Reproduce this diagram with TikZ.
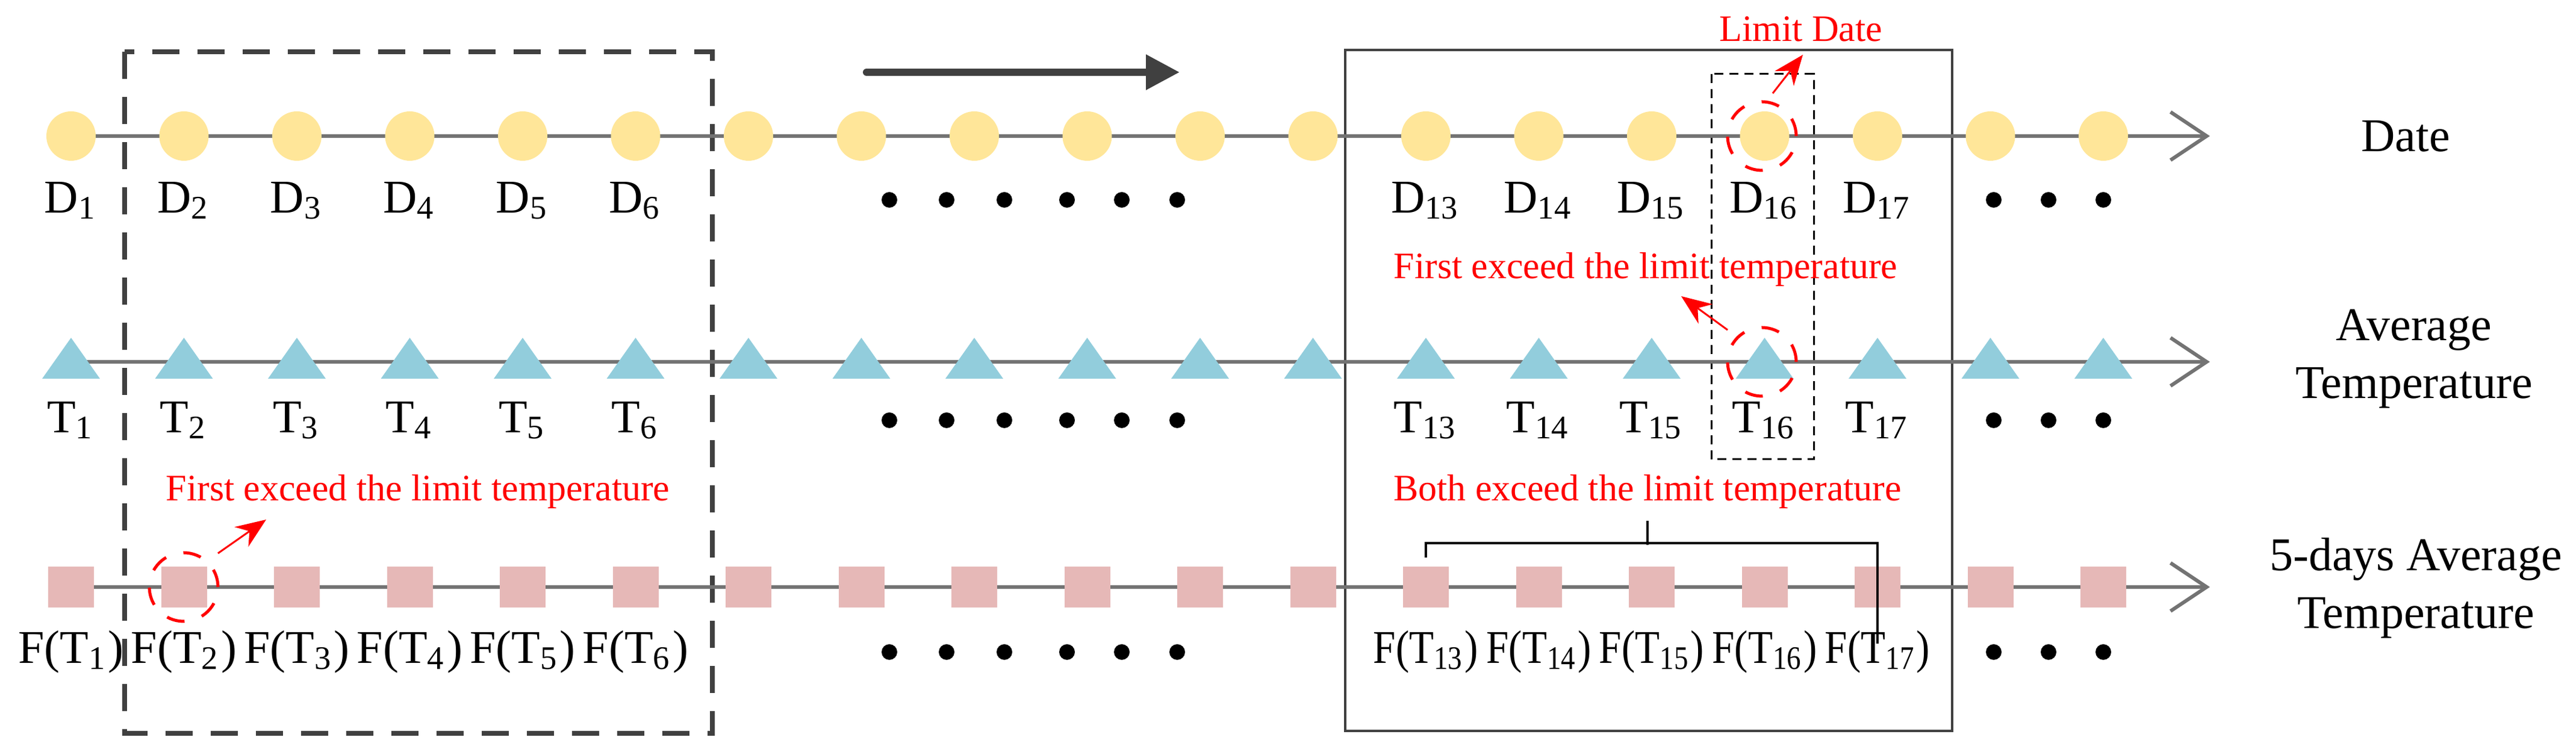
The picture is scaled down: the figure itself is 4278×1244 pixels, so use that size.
\documentclass[tikz,border=0pt]{standalone}
\usepackage{fontspec}
\setmainfont{Liberation Serif}
\usetikzlibrary{arrows.meta}
\begin{document}
\begin{tikzpicture}[x=0.1pt,y=-0.1pt,
  axis/.style={draw=gray!90!black,line width=0.6pt,-{Straight Barb[length=6pt,width=8pt,line width=0.6pt]}},
  dot/.style={circle,fill=yellow!40!orange!40,fill={rgb,255:red,255;green,230;blue,153},inner sep=0,minimum width=8pt,minimum height=8.2pt},
  tri/.style={regular polygon,regular polygon sides=3},
  sq/.style={rectangle,fill={rgb,255:red,230;green,184;blue,183},inner sep=0,minimum width=7.6pt,minimum height=6.8pt},
  lab/.style={font=\fontsize{7.8}{9}\selectfont,inner sep=0},
  red/.style={font=\fontsize{6.2}{7}\selectfont,text=red,inner sep=0},
  bd/.style={circle,fill=black,inner sep=0,minimum size=2.6pt},
  rc/.style={draw=red,dashed,line width=0.5pt,circle,minimum size=11.4pt,inner sep=0},
  rarr/.style={red,draw=red,line width=0.3pt,-{Stealth[length=5pt,width=4pt]}}]
\useasboundingbox (0,0) rectangle (4278,1244);
% boxes
\draw[draw={rgb,255:red,64;green,64;blue,64},line width=0.8pt,dash pattern=on 4.5pt off 3pt] (207,86) rectangle (1183,1218);
\draw[draw={rgb,255:red,64;green,64;blue,64},line width=0.45pt] (2234,83) rectangle (3242,1214);
\draw[red,line width=0.3pt,dash pattern=on 1.5pt off 1pt] (2842,123) rectangle (3012,763);
% top arrow
\coordinate (ta) at (1439,120); \coordinate (tb) at (1959,120);
\draw[line width=1.2pt,draw={rgb,255:red,64;green,64;blue,64},line cap=round,-{Triangle[length=5.6pt,width=5.6pt]}] (ta) -- (tb);
% axes
\coordinate (d0) at (118,226); \coordinate (d1) at (3670,226);
\coordinate (t0) at (118,601); \coordinate (t1) at (3670,601);
\coordinate (f0) at (118,975); \coordinate (f1) at (3670,975);
\draw[axis] (d0) -- (d1);
\draw[axis] (t0) -- (t1);
\draw[axis] (f0) -- (f1);
\foreach \i in {1,...,19}{
  \pgfmathsetmacro{\xx}{118+187.5*(\i-1)}
  \node[dot] (D\i) at (\xx,226) {};
  \fill[fill={rgb,255:red,146;green,205;blue,220}] (\xx-48,629) -- (\xx+48,629) -- (\xx,561) -- cycle;
  \coordinate (T\i) at (\xx,601);
  \node[sq] (F\i) at (\xx,975) {};
}
\foreach \i in {1,...,6,13,14,15,16,17}{
  \pgfmathsetmacro{\xx}{118+187.5*(\i-1)}
  \node[lab] (DL\i) at (\xx,333) {D\textsubscript{\i}};
  \node[lab] (TL\i) at (\xx,698) {T\textsubscript{\i}};
}
\foreach \i in {1,...,6}{
  \pgfmathsetmacro{\xx}{118+187.5*(\i-1)}
  \node[lab] (FL\i) at (\xx,1083) {F(T\textsubscript{\i})};
}
\foreach \i in {13,...,17}{
  \pgfmathsetmacro{\xx}{118+187.5*(\i-1)}
  \node[lab,xscale=0.86] (FL\i) at (\xx,1083) {F(T\textsubscript{\i})};
}
% dots
\foreach \y [count=\r] in {332,698,1083}{
  \foreach \x [count=\k] in {1477,1572,1668,1772,1863,1955}{\node[bd] (m\r\k) at (\x,\y) {};}
  \foreach \x [count=\k] in {3311,3402,3493}{\node[bd] (n\r\k) at (\x,\y) {};}
}
% right labels
\node[lab,align=center] (date) at (3995,226) {Date};
\node[lab,align=center] (avg) at (4009,596) {Average\\[0.6pt]Temperature};
\node[lab,align=center] (five) at (4012,977) {5-days Average\\[0.6pt]Temperature};
% red annotations
\node[rc] (c1) at (305,975) {};
\node[red] (r1) at (694,817) {First exceed the limit temperature};
\coordinate (a1s) at (362,919); \coordinate (a1e) at (442,863);
\draw[rarr] (a1s) -- (a1e);
\node[rc] (c2) at (2926,226) {};
\node[rc] (c3) at (2926,601) {};
\node[red] (ld) at (2991,48) {Limit Date};
\coordinate (a2s) at (2944,155); \coordinate (a2e) at (2994,91);
\draw[rarr] (a2s) -- (a2e);
\node[red] (r2) at (2733,448) {First exceed the limit temperature};
\coordinate (a3s) at (2869,548); \coordinate (a3e) at (2792,492);
\draw[rarr] (a3s) -- (a3e);
\node[red] (r3) at (2736,817) {Both exceed the limit temperature};
\draw[red,line width=0.4pt] (F13.north) ++(0,-13) coordinate (b0) -- ++(0,-24) -| ([yshift=-13]F17.north);
\draw[red,line width=0.4pt] (2736,905) -- (2736,865);
\end{tikzpicture}
\end{document}
